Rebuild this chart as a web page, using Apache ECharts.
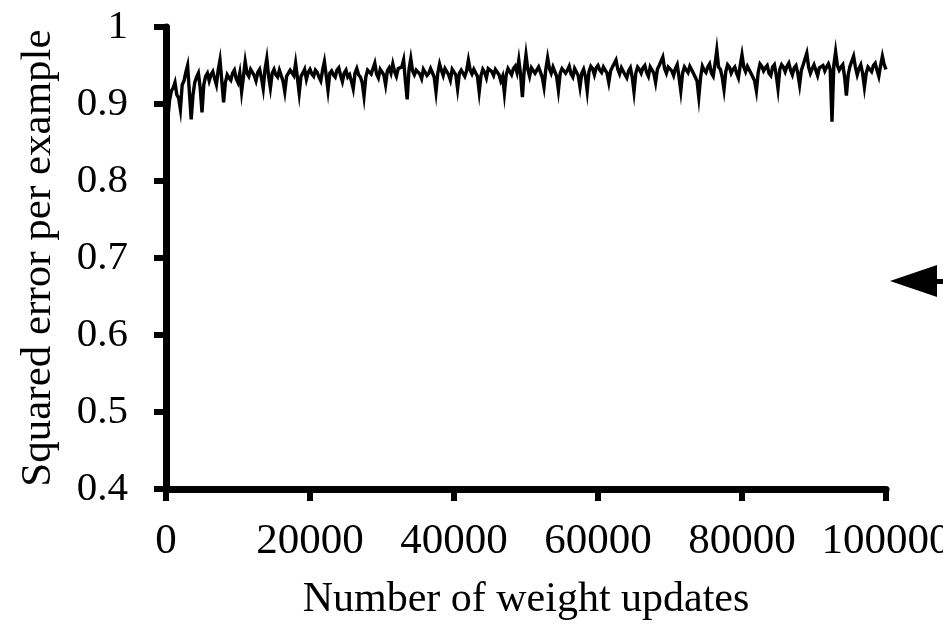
<!DOCTYPE html>
<html>
<head>
<meta charset="utf-8">
<script src="https://cdn.jsdelivr.net/npm/echarts@6/dist/echarts.min.js"></script>
<style>html,body{margin:0;padding:0;background:#fff;overflow:hidden}#c{width:943px;height:636px}</style>
</head>
<body>
<div id="c"></div>
<script>
// x step between samples (weight updates)
const xStep = 250;
// squared error per example, one value per 250 updates, 0 .. 100000
const errValues = [
  0.852,0.880,0.905,0.917,0.921,0.928,0.912,0.908,0.893,0.925,0.930,0.941,0.950,0.915,0.880,0.912,0.928,0.935,0.940,0.921,
  0.889,0.925,0.936,0.940,0.930,0.938,0.942,0.933,0.925,0.944,0.957,0.930,0.902,0.928,0.938,0.934,0.931,0.940,0.944,0.933,
  0.928,0.940,0.916,0.935,0.955,0.940,0.936,0.945,0.943,0.937,0.930,0.941,0.945,0.934,0.920,0.945,0.959,0.936,0.921,0.940,
  0.945,0.938,0.935,0.944,0.942,0.930,0.916,0.936,0.940,0.944,0.946,0.937,0.953,0.934,0.914,0.936,0.940,0.945,0.932,0.941,
  0.945,0.939,0.936,0.944,0.941,0.935,0.930,0.944,0.955,0.937,0.918,0.940,0.943,0.938,0.935,0.944,0.947,0.937,0.929,0.940,
  0.944,0.935,0.938,0.930,0.920,0.940,0.946,0.938,0.935,0.928,0.910,0.935,0.944,0.943,0.939,0.946,0.953,0.939,0.934,0.945,
  0.943,0.938,0.925,0.943,0.947,0.940,0.952,0.942,0.936,0.946,0.944,0.948,0.957,0.930,0.906,0.945,0.959,0.943,0.938,0.944,
  0.946,0.939,0.933,0.945,0.944,0.937,0.940,0.946,0.948,0.935,0.916,0.940,0.952,0.944,0.937,0.946,0.945,0.938,0.931,0.945,
  0.946,0.938,0.920,0.940,0.944,0.946,0.936,0.943,0.957,0.944,0.939,0.945,0.947,0.936,0.916,0.937,0.945,0.941,0.934,0.946,
  0.948,0.942,0.937,0.945,0.944,0.938,0.930,0.936,0.914,0.938,0.946,0.944,0.938,0.946,0.949,0.941,0.957,0.938,0.909,0.944,
  0.964,0.945,0.936,0.947,0.948,0.940,0.941,0.948,0.946,0.935,0.922,0.945,0.960,0.946,0.940,0.948,0.947,0.936,0.918,0.940,
  0.946,0.948,0.940,0.944,0.949,0.939,0.935,0.946,0.948,0.937,0.922,0.940,0.945,0.936,0.917,0.942,0.949,0.946,0.938,0.947,
  0.950,0.944,0.941,0.948,0.946,0.940,0.928,0.943,0.948,0.950,0.957,0.945,0.939,0.947,0.949,0.938,0.934,0.943,0.947,0.935,
  0.916,0.940,0.948,0.945,0.940,0.947,0.950,0.941,0.936,0.948,0.947,0.940,0.928,0.945,0.950,0.949,0.961,0.946,0.940,0.948,
  0.949,0.943,0.937,0.946,0.951,0.935,0.917,0.940,0.948,0.947,0.941,0.949,0.950,0.940,0.935,0.930,0.909,0.935,0.949,0.944,
  0.941,0.948,0.952,0.940,0.936,0.952,0.970,0.948,0.945,0.935,0.919,0.942,0.951,0.948,0.940,0.945,0.948,0.940,0.934,0.950,
  0.964,0.948,0.942,0.949,0.950,0.940,0.935,0.930,0.917,0.941,0.952,0.949,0.943,0.947,0.950,0.940,0.937,0.948,0.951,0.938,
  0.920,0.945,0.951,0.948,0.942,0.949,0.953,0.944,0.938,0.947,0.950,0.940,0.925,0.944,0.951,0.950,0.966,0.948,0.940,0.946,
  0.951,0.944,0.937,0.947,0.949,0.950,0.943,0.948,0.952,0.945,0.877,0.950,0.968,0.950,0.944,0.948,0.951,0.935,0.911,0.938,
  0.949,0.950,0.962,0.948,0.938,0.946,0.951,0.940,0.922,0.940,0.948,0.949,0.942,0.950,0.953,0.944,0.936,0.950,0.962,0.951,
  0.945
];
const xTicks = [0, 20000, 40000, 60000, 80000, 100000];
const yTicks = [0.4, 0.5, 0.6, 0.7, 0.8, 0.9, 1];

const seriesData = errValues.map((v, i) => [i * xStep, v]);
const font = 'Liberation Serif';

const chart = echarts.init(document.getElementById('c'), null, {renderer: 'canvas'});
chart.setOption({
  animation: false,
  backgroundColor: '#fff',
  grid: {left: 166, right: 57, top: 27, bottom: 147, containLabel: false, outerBoundsMode: 'none'},
  xAxis: {
    type: 'value', min: 0, max: 100000, interval: 20000,
    name: 'Number of weight updates', nameLocation: 'middle', nameGap: 90,
    nameTextStyle: {fontFamily: font, fontSize: 42, color: '#000'},
    axisLine: {show: true, lineStyle: {color: '#000', width: 7}},
    axisTick: {show: true, length: 12, lineStyle: {color: '#000', width: 6}},
    axisLabel: {fontFamily: font, fontSize: 43, color: '#000', margin: 31, hideOverlap: false,
      formatter: v => xTicks.includes(v) ? String(v) : ''},
    splitLine: {show: false}
  },
  yAxis: {
    type: 'value', min: 0.4, max: 1, interval: 0.1,
    name: 'Squared error per example', nameLocation: 'middle', nameGap: 106,
    nameTextStyle: {fontFamily: font, fontSize: 43, color: '#000'},
    axisLine: {show: true, lineStyle: {color: '#000', width: 7}},
    axisTick: {show: true, length: 12, lineStyle: {color: '#000', width: 6}},
    axisLabel: {fontFamily: font, fontSize: 41, color: '#000', margin: 38,
      formatter: v => {
        const t = yTicks.find(y => Math.abs(y - v) < 1e-6);
        return t === undefined ? '' : String(t);
      }},
    splitLine: {show: false}
  },
  series: [{
    type: 'line', data: seriesData, showSymbol: false, symbol: 'none', sampling: null,
    lineStyle: {color: '#000', width: 3.4, join: 'miter'}, z: 1
  }],
  graphic: [
    {type: 'polygon', shape: {points: [[890, 281], [937, 265], [937, 297]]},
      style: {fill: '#000'}},
    {type: 'rect', shape: {x: 936, y: 279, width: 8, height: 5}, style: {fill: '#000'}}
  ]
});
</script>
</body>
</html>
